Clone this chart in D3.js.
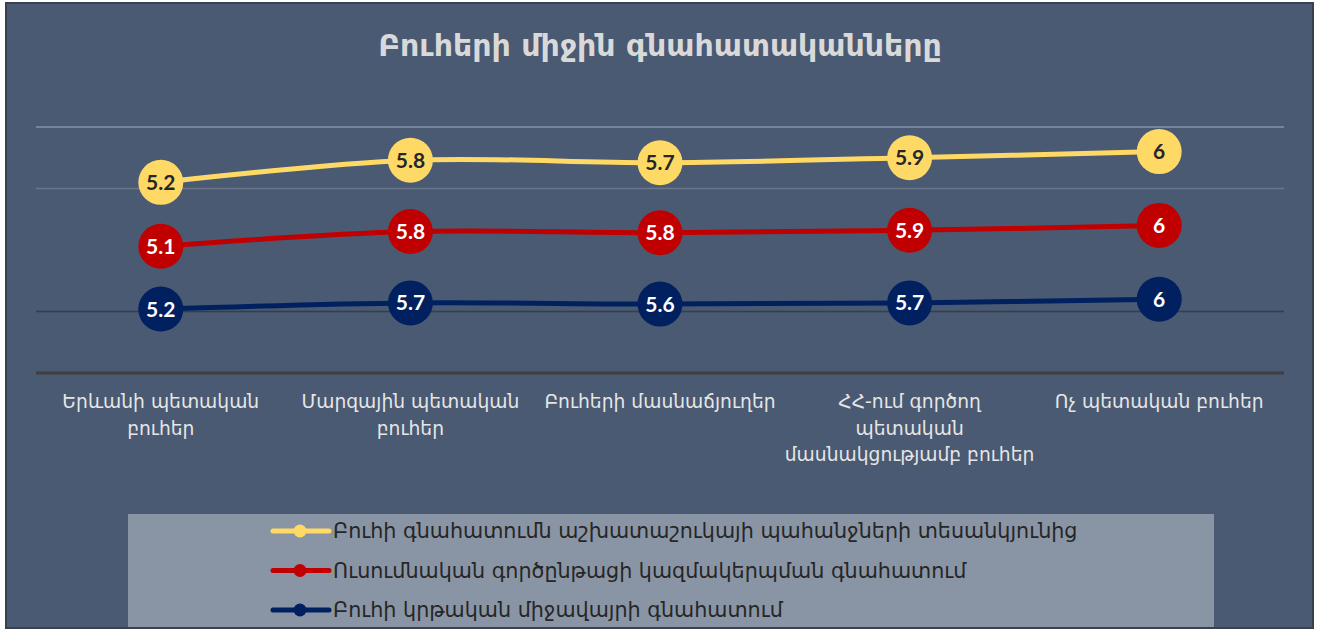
<!DOCTYPE html>
<html>
<head>
<meta charset="utf-8">
<script src="https://cdn.jsdelivr.net/npm/d3@7"></script>
<style>
  body { margin: 0; background: #ffffff; }
  svg { display: block; font-family: "DejaVu Sans", sans-serif; }
</style>
</head>
<body>
<div id="chart"></div>
<script>
// chart data
const title = 'Բուհերի միջին գնահատականները';
const categories = [
  ['Երևանի պետական', 'բուհեր'],
  ['Մարզային պետական', 'բուհեր'],
  ['Բուհերի մասնաճյուղեր'],
  ['ՀՀ-ում գործող', 'պետական', 'մասնակցությամբ բուհեր'],
  ['Ոչ պետական բուհեր']
];
const seriesNames = [
  'Բուհի կրթական միջավայրի գնահատում',
  'Ուսումնական գործընթացի կազմակերպման գնահատում',
  'Բուհի գնահատումն աշխատաշուկայի պահանջների տեսանկյունից'
];
const environment = [5.2, 5.7, 5.6, 5.7, 6];
const process = [5.1, 5.8, 5.8, 5.9, 6];
const labour = [5.2, 5.8, 5.7, 5.9, 6];
const seriesColors = ['#002060', '#c00000', '#ffd966'];
const labelColors = ['#ffffff', '#ffffff', '#262626'];
const yTicks = [5, 10, 15, 20];
const gridColors = ['#353e4c', '#4f5868', '#6b778a', '#8893a5'];

const W = 1319, H = 630;

const svg = d3.select('#chart').append('svg')
  .attr('width', W).attr('height', H);

// chart background
svg.append('rect')
  .attr('x', 6).attr('y', 3).attr('width', 1307).attr('height', 625)
  .attr('fill', '#4a5a72')
  .attr('stroke', '#39414f').attr('stroke-width', 2);

// title
svg.append('text')
  .attr('x', 660).attr('y', 56)
  .attr('text-anchor', 'middle')
  .attr('fill', '#d9d9d9')
  .attr('font-size', 30).attr('font-weight', 'bold')
  .text(title);

// scales (stacked lines)
const x = d3.scaleBand().domain(d3.range(categories.length)).range([36, 1284]);
const y = d3.scaleLinear().domain([0, 20]).range([373, 127]);

// gridlines
svg.append('g').selectAll('line').data(yTicks).join('line')
  .attr('x1', 36).attr('x2', 1284)
  .attr('y1', d => y(d)).attr('y2', d => y(d))
  .attr('stroke', (d, i) => gridColors[i]).attr('stroke-width', 1.5);

// x axis line
svg.append('line')
  .attr('x1', 36).attr('x2', 1284)
  .attr('y1', y(0)).attr('y2', y(0))
  .attr('stroke', '#3f3f3f').attr('stroke-width', 3);

// category labels
const catG = svg.append('g').selectAll('text').data(categories).join('text')
  .attr('x', (d, i) => x(i) + x.bandwidth() / 2)
  .attr('y', 408)
  .attr('text-anchor', 'middle')
  .attr('fill', '#e6e6e6')
  .attr('font-size', 18.7);
catG.selectAll('tspan').data(d => d).join('tspan')
  .attr('x', function () { return this.parentNode.getAttribute('x'); })
  .attr('dy', (d, i) => i === 0 ? 0 : 26.5)
  .text(d => d);

// stack the series
const raw = [environment, process, labour];
const stacked = [];
let base = categories.map(() => 0);
raw.forEach((vals, s) => {
  const pts = vals.map((v, i) => ({ i, v, total: base[i] + v }));
  base = pts.map(p => p.total);
  stacked.push(pts);
});

const line = d3.line()
  .x(d => x(d.i) + x.bandwidth() / 2)
  .y(d => y(d.total))
  .curve(d3.curveCatmullRom.alpha(0.5));

const seriesG = svg.append('g').selectAll('g').data(stacked).join('g');

seriesG.append('path')
  .attr('d', d => line(d))
  .attr('fill', 'none')
  .attr('stroke', (d, s) => seriesColors[s])
  .attr('stroke-width', 5);

seriesG.each(function (pts, s) {
  const g = d3.select(this);
  g.selectAll('circle').data(pts).join('circle')
    .attr('cx', d => x(d.i) + x.bandwidth() / 2)
    .attr('cy', d => y(d.total))
    .attr('r', 22.5)
    .attr('fill', seriesColors[s]);
  g.selectAll('text').data(pts).join('text')
    .attr('x', d => x(d.i) + x.bandwidth() / 2)
    .attr('y', d => y(d.total) + 7.5)
    .attr('text-anchor', 'middle')
    .attr('font-family', 'Lato, "Open Sans", sans-serif')
    .attr('font-weight', 'bold')
    .attr('font-size', 21)
    .attr('fill', labelColors[s])
    .text(d => d.v);
});

// legend
svg.append('rect')
  .attr('x', 128).attr('y', 514).attr('width', 1086).attr('height', 113)
  .attr('fill', '#8995a5');

const legendOrder = [2, 1, 0];
const leg = svg.append('g').selectAll('g').data(legendOrder).join('g')
  .attr('transform', (d, i) => `translate(0,${531 + i * 39.5})`);
leg.append('line')
  .attr('x1', 273).attr('x2', 329).attr('y1', 0).attr('y2', 0)
  .attr('stroke', d => seriesColors[d]).attr('stroke-width', 5)
  .attr('stroke-linecap', 'round');
leg.append('circle')
  .attr('cx', 300).attr('cy', 0).attr('r', 6.5)
  .attr('fill', d => seriesColors[d]);
leg.append('text')
  .attr('x', 333).attr('y', 7)
  .attr('fill', '#262626')
  .attr('font-size', 20.7)
  .text(d => seriesNames[d]);
</script>
</body>
</html>
